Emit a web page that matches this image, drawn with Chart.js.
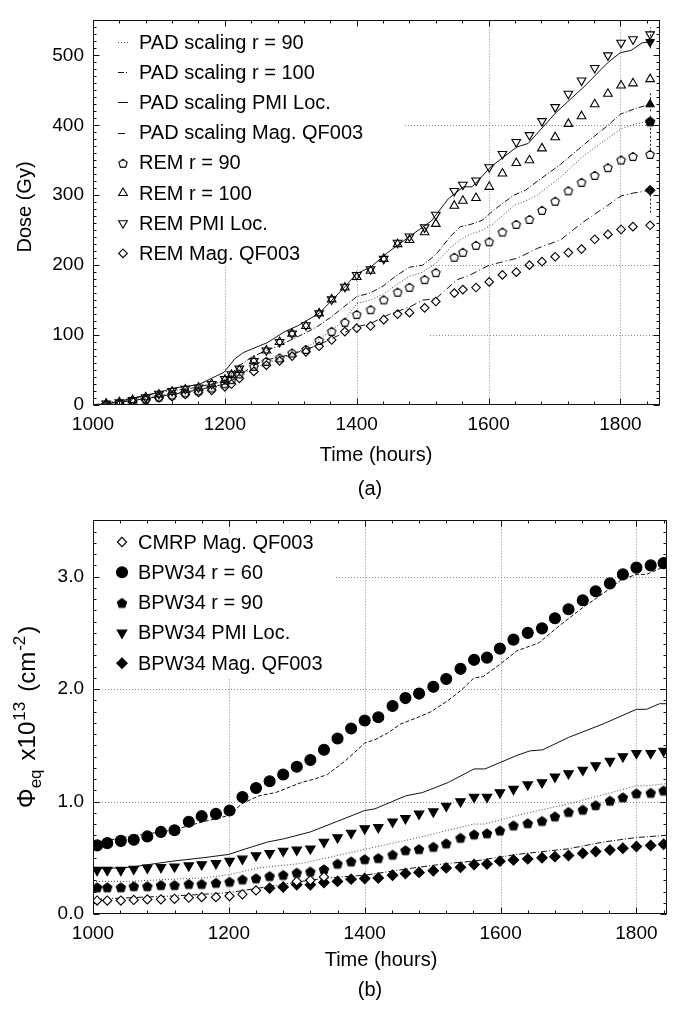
<!DOCTYPE html>
<html><head><meta charset="utf-8">
<script src="https://cdn.jsdelivr.net/npm/chart.js@4.4.0/dist/chart.umd.min.js"></script>
<style>
html,body{margin:0;padding:0;background:#fff;}
#wrap{position:relative;width:676px;height:1009px;overflow:hidden;background:#fff;}
canvas{position:absolute;left:0;}
</style></head><body>
<div id="wrap">
<canvas id="ca" width="676" height="500" style="top:0px"></canvas>
<canvas id="cb" width="676" height="509" style="top:500px"></canvas>
</div>
<script>
// ---------------- DATA: chart (a) ----------------
const xTicksA = [1000, 1200, 1400, 1600, 1800];
const yTicksA = [0, 100, 200, 300, 400, 500];

const remTimes = [1020,1040,1060,1080,1100,1120,1140,1160,1180,1200,1210,1222,1244,1263,1283,1302,1323,1343,1362,1382,1400,1421,1441,1462,1480,1503,1520,1548,1561,1581,1601,1621,1642,1662,1681,1701,1721,1741,1761,1781,1801,1819,1845];
const remR90  = [1,3,6,9,12,15,18,21,25,31,37,45,56,63,68,75,80,93,106,119,130,137,151,162,169,180,190,212,219,229,234,248,259,266,279,292,307,319,329,340,351,356,359];
const remR100 = [2,4,7,11,15,19,22,25,30,36,43,50,63,78,90,102,113,131,151,168,183,192,209,230,236,247,259,285,292,296,312,331,346,350,367,383,402,413,430,445,457,460,466];
const remPMI  = [2,4,7,11,16,20,23,25,30,37,44,52,63,78,90,102,114,131,151,169,186,194,209,232,241,254,272,306,315,321,340,359,376,386,406,426,445,464,482,500,518,523,530];
const remMag  = [1,2,5,7,10,12,15,18,21,26,30,38,48,57,63,70,76,84,93,105,110,113,122,130,132,139,148,160,165,168,176,186,190,200,205,212,218,223,237,244,251,255,257];

const padR90T  = [1000,1050,1100,1150,1200,1220,1250,1280,1300,1320,1340,1360,1380,1400,1420,1440,1460,1480,1500,1520,1542,1557,1572,1590,1607,1638,1656,1674,1709,1744,1780,1801,1823,1845];
const padR90V  = [0,6,14,20,30,42,55,65,72,80,92,106,120,145,150,158,172,184,190,203,225,236,244,250,259,285,292,300,326,356,381,395,402,406];
const padR100T = [1000,1050,1100,1150,1200,1220,1240,1260,1280,1300,1320,1340,1360,1380,1400,1420,1440,1460,1480,1500,1520,1542,1557,1572,1590,1607,1638,1656,1674,1709,1744,1780,1800,1823,1845];
const padR100V = [0,8,18,24,34,55,68,77,84,93,102,112,125,140,155,160,170,185,197,200,215,241,255,258,264,278,300,307,320,344,372,399,416,424,430];
const padPmiT  = [1000,1016,1055,1100,1121,1160,1199,1215,1228,1251,1264,1291,1310,1343,1382,1400,1421,1447,1486,1513,1539,1562,1575,1604,1643,1660,1702,1748,1780,1800,1816,1833,1845];
const padPmiV  = [0,1,8,18,24,29,47,66,75,84,89,105,113,131,169,188,197,218,245,263,295,312,312,341,369,374,418,458,489,504,507,518,519];
const padMagT  = [1000,1050,1100,1150,1200,1220,1240,1260,1300,1340,1380,1400,1420,1450,1480,1500,1520,1552,1572,1601,1644,1674,1709,1744,1780,1801,1819,1845];
const padMagV  = [0,5,12,20,30,40,55,64,72,85,103,112,116,130,140,150,152,179,186,200,210,224,236,262,285,299,303,307];

const endTimes  = [1845, 1845, 1845, 1845];
const endValues = [519, 430, 406, 307];
const endLow    = [510, 420, 365, 275];
const endHigh   = [540, 448, 416, 314];

// ---------------- DATA: chart (b) ----------------
const xTicksB = [1000, 1200, 1400, 1600, 1800];
const yTicksB = [0, 1, 2, 3];

const bpwTimes = [1006,1021,1041,1060,1080,1100,1120,1141,1160,1181,1201,1220,1240,1260,1280,1300,1320,1340,1360,1380,1400,1420,1441,1460,1480,1501,1520,1541,1561,1580,1599,1619,1640,1661,1680,1700,1721,1740,1761,1780,1800,1821,1840];
const bpwR60 = [0.61,0.63,0.65,0.66,0.69,0.73,0.745,0.82,0.87,0.89,0.92,1.04,1.12,1.18,1.24,1.31,1.37,1.46,1.56,1.65,1.72,1.75,1.85,1.92,1.96,2.02,2.09,2.18,2.26,2.28,2.36,2.44,2.50,2.54,2.63,2.71,2.79,2.87,2.94,3.02,3.08,3.10,3.12];
const bpwR90 = [0.24,0.24,0.24,0.25,0.25,0.26,0.26,0.27,0.27,0.28,0.29,0.31,0.32,0.34,0.35,0.37,0.38,0.40,0.45,0.47,0.49,0.50,0.53,0.57,0.58,0.60,0.63,0.68,0.71,0.72,0.745,0.79,0.81,0.83,0.87,0.91,0.93,0.97,1.01,1.04,1.075,1.08,1.10];
const bpwPMI = [0.39,0.39,0.39,0.40,0.41,0.415,0.42,0.43,0.44,0.45,0.47,0.49,0.52,0.54,0.56,0.57,0.58,0.64,0.68,0.72,0.76,0.77,0.82,0.85,0.89,0.91,0.96,1.00,1.04,1.04,1.08,1.11,1.15,1.17,1.22,1.25,1.28,1.32,1.36,1.40,1.43,1.43,1.45];
const bpwMagT = [1260,1280,1300,1320,1340,1360,1380,1400,1420,1441,1460,1480,1501,1520,1541,1561,1580,1599,1619,1640,1661,1680,1700,1721,1740,1761,1780,1800,1821,1840];
const bpwMagV = [0.23,0.24,0.26,0.26,0.28,0.29,0.31,0.315,0.32,0.345,0.36,0.37,0.385,0.41,0.415,0.44,0.445,0.47,0.48,0.49,0.50,0.51,0.52,0.54,0.555,0.57,0.585,0.60,0.61,0.62];
const cmrpT = [1006,1021,1041,1060,1080,1100,1120,1141,1160,1181,1201,1220,1240,1300,1320,1340];
const cmrpV = [0.12,0.12,0.12,0.125,0.13,0.13,0.135,0.145,0.15,0.15,0.16,0.175,0.21,0.29,0.30,0.33];

const lineR60T = [1000,1054,1117,1162,1200,1219,1244,1269,1307,1326,1345,1371,1400,1415,1434,1453,1479,1498,1523,1542,1561,1574,1599,1624,1656,1688,1720,1751,1777,1800,1815,1845];
const lineR60V = [0.63,0.69,0.745,0.82,0.876,0.98,1.05,1.08,1.17,1.20,1.24,1.36,1.52,1.55,1.61,1.69,1.75,1.80,1.90,1.99,2.10,2.11,2.22,2.34,2.41,2.57,2.72,2.85,2.97,3.02,3.02,3.10];
const linePmiT = [1000,1054,1117,1162,1200,1225,1257,1282,1320,1358,1400,1415,1460,1485,1523,1561,1577,1624,1643,1662,1700,1751,1800,1815,1834,1845];
const linePmiV = [0.40,0.415,0.47,0.50,0.53,0.58,0.64,0.67,0.73,0.82,0.92,0.935,1.05,1.08,1.17,1.29,1.29,1.41,1.45,1.46,1.57,1.69,1.82,1.82,1.87,1.87];
const lineR90T = [1000,1054,1117,1162,1200,1244,1307,1345,1400,1434,1472,1523,1561,1577,1624,1656,1700,1751,1800,1815,1845];
const lineR90V = [0.29,0.29,0.31,0.32,0.35,0.41,0.45,0.50,0.575,0.62,0.67,0.745,0.80,0.80,0.875,0.92,0.98,1.06,1.14,1.14,1.16];
const lineMagT = [1000,1054,1117,1162,1200,1244,1307,1345,1400,1472,1523,1561,1624,1700,1751,1800,1845];
const lineMagV = [0.13,0.145,0.16,0.175,0.19,0.23,0.29,0.32,0.345,0.41,0.45,0.47,0.53,0.58,0.64,0.68,0.70];

// ---------------- helpers ----------------
const FONT = '"Liberation Sans", Arial, Helvetica, sans-serif';
Chart.defaults.font.family = FONT;
Chart.defaults.color = '#000';

function pts(xs, ys) { return xs.map((x, i) => ({ x: x, y: ys[i] })); }

function pentagon(r, fill, stroke, lw) {
  const s = 2 * Math.ceil(r + lw + 1);
  const c = document.createElement('canvas');
  c.width = s; c.height = s;
  const g = c.getContext('2d');
  g.beginPath();
  for (let i = 0; i < 5; i++) {
    const a = -Math.PI / 2 + i * 2 * Math.PI / 5;
    const px = s / 2 + r * Math.cos(a), py = s / 2 + 0.8 + r * Math.sin(a);
    if (i === 0) g.moveTo(px, py); else g.lineTo(px, py);
  }
  g.closePath();
  if (fill) { g.fillStyle = fill; g.fill(); }
  if (stroke) { g.strokeStyle = stroke; g.lineWidth = lw; g.stroke(); }
  return c;
}

function marker(ctx, ds, x, y) {
  const style = ds.pointStyle, r = ds.pointRadius, rot = (ds.pointRotation || 0) * Math.PI / 180;
  ctx.save();
  ctx.translate(x, y);
  if (style instanceof HTMLCanvasElement) {
    ctx.drawImage(style, -style.width / 2, -style.height / 2);
    ctx.restore(); return;
  }
  ctx.rotate(rot);
  ctx.beginPath();
  if (style === 'circle') ctx.arc(0, 0, r, 0, Math.PI * 2);
  else if (style === 'triangle') {
    for (let i = 0; i < 3; i++) {
      const a = i * 2 * Math.PI / 3;
      const px = Math.sin(a) * r, py = -Math.cos(a) * r;
      if (i === 0) ctx.moveTo(px, py); else ctx.lineTo(px, py);
    }
    ctx.closePath();
  } else if (style === 'rectRot') {
    ctx.moveTo(-r, 0); ctx.lineTo(0, -r); ctx.lineTo(r, 0); ctx.lineTo(0, r); ctx.closePath();
  }
  ctx.fillStyle = ds.backgroundColor; ctx.fill();
  ctx.strokeStyle = ds.borderColor; ctx.lineWidth = ds.borderWidth; ctx.stroke();
  ctx.restore();
}

function lineDs(label, xs, ys, dash, color) {
  return { label, data: pts(xs, ys), showLine: true, pointRadius: 0, pointHoverRadius: 0,
           borderColor: color || '#111', borderWidth: 1, borderDash: dash, fill: false, tension: 0 };
}
function pointDs(label, xs, ys, style, r, rot, fill) {
  return { label, data: pts(xs, ys), showLine: false, pointStyle: style, pointRadius: r,
           pointHoverRadius: r, pointRotation: rot, borderColor: '#000', borderWidth: 1.1,
           backgroundColor: fill };
}

function options(xmin, xmax, ymin, ymax, xTicks, yTicks, yFmt, padRight, padTop) {
  return {
    responsive: false, animation: false, devicePixelRatio: 1, events: [],
    layout: { padding: { left: 0, right: padRight, top: padTop, bottom: 0 } },
    plugins: { legend: { display: false }, tooltip: { enabled: false } },
    scales: {
      x: { type: 'linear', min: xmin, max: xmax,
           grid: { display: false, drawTicks: false }, border: { display: false },
           ticks: { color: '#000', font: { family: FONT, size: 19 }, padding: 8, maxRotation: 0,
                    autoSkip: false, callback: v => String(v) },
           afterBuildTicks: s => { s.ticks = xTicks.map(v => ({ value: v })); },
           afterFit: s => { s.height = 95; } },
      y: { type: 'linear', min: ymin, max: ymax,
           grid: { display: false, drawTicks: false }, border: { display: false },
           ticks: { color: '#000', font: { family: FONT, size: 19 }, padding: 9, autoSkip: false,
                    callback: yFmt },
           afterBuildTicks: s => { s.ticks = yTicks.map(v => ({ value: v })); },
           afterFit: s => { s.width = 93; } }
    }
  };
}

function framePlugin(cfg) {
  return {
    id: 'frame' + cfg.name,
    beforeDatasetsDraw(chart) {
      const { ctx, chartArea: a, scales: { x, y } } = chart;
      ctx.save();
      ctx.strokeStyle = '#8a8a8a'; ctx.lineWidth = 1; ctx.setLineDash([1, 2]);
      cfg.gridX.forEach(v => {
        const px = Math.round(x.getPixelForValue(v)) + 0.5;
        ctx.beginPath(); ctx.moveTo(px, a.top); ctx.lineTo(px, a.bottom); ctx.stroke();
      });
      cfg.gridY.forEach((v, i) => {
        const py = Math.round(y.getPixelForValue(v)) + 0.5;
        const x0 = cfg.gridYStart ? cfg.gridYStart[i] : a.left;
        ctx.beginPath(); ctx.moveTo(x0, py); ctx.lineTo(a.right, py); ctx.stroke();
      });
      ctx.setLineDash([]);
      ctx.fillStyle = '#fff';
      const b = cfg.box; ctx.fillRect(b[0], b[1], b[2] - b[0], b[3] - b[1]);
      ctx.restore();
    },
    afterDatasetsDraw(chart) {
      const { ctx, chartArea: a, scales: { x, y } } = chart;
      ctx.save();
      if (cfg.extra) cfg.extra(chart);
      // frame
      ctx.strokeStyle = '#111'; ctx.lineWidth = 1; ctx.setLineDash([]);
      const L = Math.round(a.left) + 0.5, R = Math.round(a.right) - 0.5,
            T = Math.round(a.top) + 0.5, B = Math.round(a.bottom) - 0.5;
      ctx.strokeRect(L, T, R - L, B - T);
      // ticks
      ctx.beginPath();
      const eps = 1e-6;
      for (let v = x.min; v <= x.max + eps; v += cfg.minorX) {
        const px = Math.round(x.getPixelForValue(v)) + 0.5;
        const q = (v - cfg.majorX0) / cfg.majorX;
        const major = Math.abs(q - Math.round(q)) < 1e-6;
        const len = major ? 6 : 3;
        ctx.moveTo(px, B); ctx.lineTo(px, B - len);
        ctx.moveTo(px, T); ctx.lineTo(px, T + len);
      }
      for (let i = 0; ; i++) {
        const v = y.min + i * cfg.minorY;
        if (v > y.max + eps) break;
        const py = Math.round(y.getPixelForValue(v)) + 0.5;
        const major = i % cfg.minorPerMajorY === 0;
        const len = major ? 6 : 3;
        ctx.moveTo(L, py); ctx.lineTo(L + len, py);
        ctx.moveTo(R, py); ctx.lineTo(R - len, py);
      }
      ctx.stroke();
      // legend
      const lg = cfg.legend;
      ctx.font = '20px ' + FONT; ctx.textBaseline = 'middle'; ctx.textAlign = 'left'; ctx.fillStyle = '#000';
      lg.items.forEach((idx, i) => {
        const ds = chart.data.datasets[idx];
        const yy = lg.y + lg.dy * i;
        if (ds.showLine) {
          ctx.save();
          ctx.strokeStyle = ds.borderColor; ctx.lineWidth = 1; ctx.setLineDash(ds.borderDash || []);
          ctx.beginPath(); ctx.moveTo(lg.x - 5, Math.round(yy) + 0.5); ctx.lineTo(lg.x + 5, Math.round(yy) + 0.5); ctx.stroke();
          ctx.restore();
        } else {
          marker(ctx, ds, lg.x, yy);
        }
        ctx.fillStyle = '#000';
        ctx.fillText(ds.label, lg.tx, yy + 1);
      });
      ctx.restore();
    },
    afterDraw(chart) {
      const ctx = chart.ctx;
      ctx.save();
      cfg.titles(ctx);
      ctx.restore();
    }
  };
}

// ---------------- chart (a) ----------------
const pentOpen = pentagon(4.4, null, '#000', 1.1);
const pentFillA = pentagon(5, '#000', '#000', 1);

const dsA = [
  lineDs('PAD scaling r = 90', padR90T, padR90V, [1, 2], '#444'),
  lineDs('PAD scaling r = 100', padR100T, padR100V, [6, 2, 1, 2]),
  lineDs('PAD scaling PMI Loc.', padPmiT, padPmiV, []),
  lineDs('PAD scaling Mag. QF003', padMagT, padMagV, [7, 3, 1, 3]),
  pointDs('REM r = 90', remTimes, remR90, pentOpen, 4.4, 0, 'rgba(0,0,0,0)'),
  pointDs('REM r = 100', remTimes, remR100, 'triangle', 5, 0, 'rgba(0,0,0,0)'),
  pointDs('REM PMI Loc.', remTimes, remPMI, 'triangle', 5, 180, 'rgba(0,0,0,0)'),
  pointDs('REM Mag. QF003', remTimes, remMag, 'rectRot', 4.3, 0, 'rgba(0,0,0,0)'),
  { label: 'PAD end values', data: pts(endTimes, endValues), showLine: false,
    pointStyle: ['triangle', 'triangle', pentFillA, 'rectRot'], pointRotation: [180, 0, 0, 0],
    pointRadius: 5, pointHoverRadius: 5, backgroundColor: '#000', borderColor: '#000', borderWidth: 1 }
];

new Chart(document.getElementById('ca'), {
  type: 'scatter',
  data: { datasets: dsA },
  options: options(1000, 1860, 0, 550, xTicksA, yTicksA, v => String(v), 16, 5),
  plugins: [framePlugin({
    name: 'A', gridX: [1200, 1400, 1600, 1800], gridY: [100, 200, 400], gridYStart: [430, 430, 93],
    box: [94, 13, 405, 266], minorX: 40, majorX: 200, majorX0: 1000, minorY: 10, minorPerMajorY: 10,
    legend: { items: [0, 1, 2, 3, 4, 5, 6, 7], x: 123, y: 42, dy: 30.2, tx: 139 },
    extra(chart) {
      const { ctx, scales: { x, y } } = chart;
      ctx.save();
      ctx.strokeStyle = '#222'; ctx.lineWidth = 1; ctx.setLineDash([2, 2]);
      endTimes.forEach((t, i) => {
        const px = Math.round(x.getPixelForValue(t)) + 0.5;
        ctx.beginPath(); ctx.moveTo(px, y.getPixelForValue(endLow[i])); ctx.lineTo(px, y.getPixelForValue(endHigh[i])); ctx.stroke();
      });
      ctx.restore();
    },
    titles(ctx) {
      ctx.fillStyle = '#000'; ctx.font = '20px ' + FONT; ctx.textAlign = 'center'; ctx.textBaseline = 'middle';
      ctx.fillText('Time (hours)', 376, 455);
      ctx.fillText('(a)', 370, 489);
      ctx.save(); ctx.translate(25, 207); ctx.rotate(-Math.PI / 2);
      ctx.fillText('Dose (Gy)', 0, 0); ctx.restore();
    }
  })]
});

// ---------------- chart (b) ----------------
const pentFillB = pentagon(5, '#000', '#000', 1);
const dsB = [
  pointDs('CMRP Mag. QF003', cmrpT, cmrpV, 'rectRot', 4.6, 0, '#fff'),
  pointDs('BPW34 r = 60', bpwTimes, bpwR60, 'circle', 5.5, 0, '#000'),
  pointDs('BPW34 r = 90', bpwTimes, bpwR90, pentFillB, 5, 0, '#000'),
  pointDs('BPW34 PMI Loc.', bpwTimes, bpwPMI, 'triangle', 5.5, 180, '#000'),
  pointDs('BPW34 Mag. QF003', bpwMagT, bpwMagV, 'rectRot', 5.2, 0, '#000'),
  lineDs('r = 60 scaled', lineR60T, lineR60V, [4, 2]),
  lineDs('PMI scaled', linePmiT, linePmiV, []),
  lineDs('r = 90 scaled', lineR90T, lineR90V, [1, 2], '#444'),
  lineDs('Mag. QF003 scaled', lineMagT, lineMagV, [6, 2, 1, 2])
];
dsB.forEach((d, i) => { d.order = i < 5 ? 0 : 1; });

new Chart(document.getElementById('cb'), {
  type: 'scatter',
  data: { datasets: dsB },
  options: options(1000, 1845, 0, 3.5, xTicksB, yTicksB, v => v.toFixed(1), 9, 14),
  plugins: [framePlugin({
    name: 'B', gridX: [1200, 1400, 1600, 1800], gridY: [1, 2, 3],
    box: [94, 33, 335, 178], minorX: 40, majorX: 200, majorX0: 1000, minorY: 0.1, minorPerMajorY: 10,
    legend: { items: [0, 1, 2, 3, 4], x: 122, y: 42, dy: 30.3, tx: 138 },
    titles(ctx) {
      ctx.fillStyle = '#000'; ctx.font = '20px ' + FONT; ctx.textAlign = 'center'; ctx.textBaseline = 'middle';
      ctx.fillText('Time (hours)', 381, 460);
      ctx.fillText('(b)', 370, 490);
      // rotated y title with sub/superscripts
      const parts = [
        { t: '\u03A6', s: 25, dy: 0, gap: 0 }, { t: 'eq', s: 17, dy: 6, gap: 9 },
        { t: 'x10', s: 24, dy: 0, gap: 1 }, { t: '13', s: 17, dy: -10, gap: 10 },
        { t: '(cm', s: 24, dy: 0, gap: 1 }, { t: '-2', s: 17, dy: -10, gap: 2 },
        { t: ')', s: 24, dy: 0, gap: 0 }
      ];
      let total = 0;
      parts.forEach(p => { ctx.font = p.s + 'px ' + FONT; p.w = ctx.measureText(p.t).width; total += p.w + p.gap; });
      ctx.save(); ctx.translate(27, 217); ctx.rotate(-Math.PI / 2);
      ctx.textAlign = 'left'; ctx.textBaseline = 'alphabetic';
      let cx = -total / 2;
      parts.forEach(p => { ctx.font = p.s + 'px ' + FONT; ctx.fillText(p.t, cx, 8 + p.dy); cx += p.w + p.gap; });
      ctx.restore();
    }
  })]
});
</script>
</body></html>
